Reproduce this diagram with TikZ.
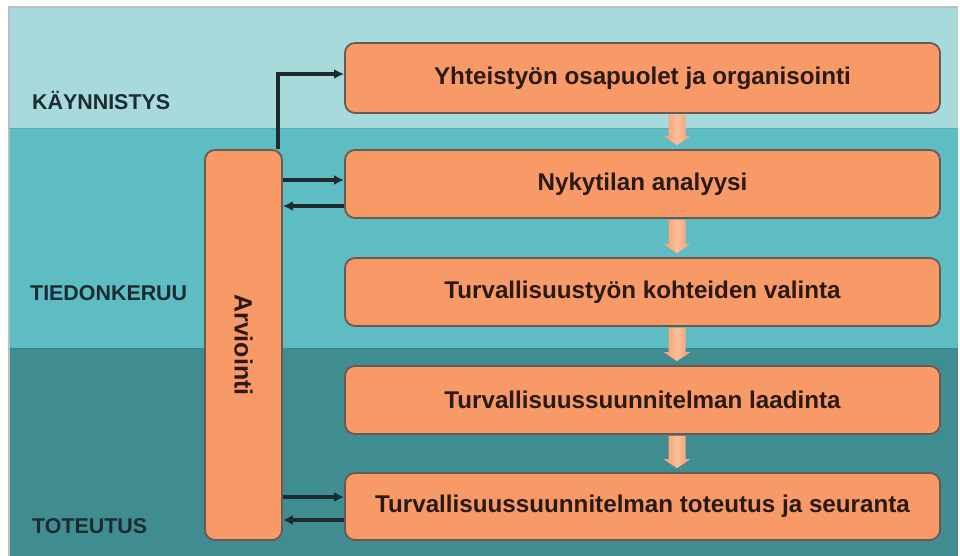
\documentclass[tikz,border=0pt]{standalone}
\usepackage{fontspec}
\setmainfont{Liberation Sans}
\usetikzlibrary{arrows.meta,calc}
\definecolor{bandA}{HTML}{A8DADC}
\definecolor{bandB}{HTML}{5EBDC3}
\definecolor{bandC}{HTML}{3F8D91}
\definecolor{boxfill}{HTML}{F89A68}
\definecolor{boxedge}{HTML}{6A5A52}
\definecolor{arrfill}{HTML}{F69C6E}
\definecolor{arrlight}{HTML}{FBBE98}
\definecolor{txt}{HTML}{2A1A14}
\definecolor{lbl}{HTML}{1C2A33}
\definecolor{conncol}{HTML}{1E2A30}
\definecolor{framecol}{HTML}{B9C2C2}
\begin{document}
\begin{tikzpicture}[x=1pt,y=-1pt,
  stagebox/.style={draw=boxedge, line width=1.8pt, fill=boxfill, rounded corners=10pt,
    minimum width=595pt, inner sep=0pt, text=txt,
    font=\bfseries\fontsize{24.2}{28}\selectfont},
  evalbox/.style={draw=boxedge, line width=1.8pt, fill=boxfill, rounded corners=10pt,
    minimum width=77pt, minimum height=390pt, inner sep=0pt},
  phaselabel/.style={anchor=west, text=lbl, inner sep=0pt,
    font=\bfseries\fontsize{21.4}{24}\selectfont},
  conn/.style={draw=conncol, line width=3.2pt, -{Latex[length=10pt,width=10pt]}},
  downarr/.style={draw=none, shading=axis, left color=arrfill, right color=arrfill,
    middle color=arrlight, shading angle=90}
]
\useasboundingbox (0,0) rectangle (960,556);
\fill[white] (0,0) rectangle (960,556);
% phase bands
\fill[bandA] (9,7) rectangle (958,128);
\fill[bandB] (9,128) rectangle (958,348);
\fill[bandC] (9,348) rectangle (958,556);
\draw[framecol, line width=1.5pt] (9,556) -- (9,7) -- (958,7);
\draw[bandB!80!black, line width=0.8pt, opacity=0.4] (9,128) -- (958,128);
\draw[bandC!85!black, line width=0.8pt, opacity=0.4] (9,348) -- (958,348);

% phase labels
\node[phaselabel] (l1) at (32,100) {KÄYNNISTYS};
\node[phaselabel] (l2) at (30,293) {TIEDONKERUU};
\node[phaselabel] (l3) at (32,526) {TOTEUTUS};

% stage boxes
\node[stagebox, minimum height=70pt] (b1) at (642.5,78) {Yhteistyön osapuolet ja organisointi};
\node[stagebox, minimum height=68pt] (b2) at (642.5,184) {Nykytilan analyysi};
\node[stagebox, minimum height=68pt] (b3) at (642.5,292) {Turvallisuustyön kohteiden valinta};
\node[stagebox, minimum height=68pt] (b4) at (642.5,400) {Turvallisuussuunnitelman laadinta};
\node[stagebox, minimum height=67pt] (b5) at (642.5,506.5) {Turvallisuussuunnitelman toteutus ja seuranta};

% evaluation box
\node[evalbox] (arv) at (243.5,345) {};
\node[rotate=-90, text=txt, inner sep=0pt, font=\bfseries\fontsize{25}{28}\selectfont] (arvt) at (arv.center) {Arviointi};

% down arrows between stages
\foreach \a/\b in {b1/b2,b2/b3,b3/b4,b4/b5}{
  \path[downarr] let \p1=(\a.south), \p2=(\b.north) in
    (\x1+26pt,\y1-1pt) -- (\x1+43pt,\y1-1pt) -- (\x1+43pt,\y2+13pt) -- (\x1+48pt,\y2+13pt)
    -- (\x1+34.5pt,\y2+4pt) -- (\x1+21pt,\y2+13pt) -- (\x1+26pt,\y2+13pt) -- cycle;
}

% connectors
\coordinate (c1) at ([yshift=4pt]b1.west);
\draw[conn] ([xshift=-5pt]arv.north east) |- (c1);
\coordinate (c2a) at ([yshift=4pt]b2.west);
\coordinate (c2b) at ([yshift=-22pt]b2.west);
\draw[conn] (c2a -| arv.east) -- (c2a);
\draw[conn] (c2b) -- (c2b -| arv.east);
\coordinate (c5a) at ([yshift=9.5pt]b5.west);
\coordinate (c5b) at ([yshift=-13.5pt]b5.west);
\draw[conn] (c5a -| arv.east) -- (c5a);
\draw[conn] (c5b) -- (c5b -| arv.east);
\end{tikzpicture}
\end{document}
